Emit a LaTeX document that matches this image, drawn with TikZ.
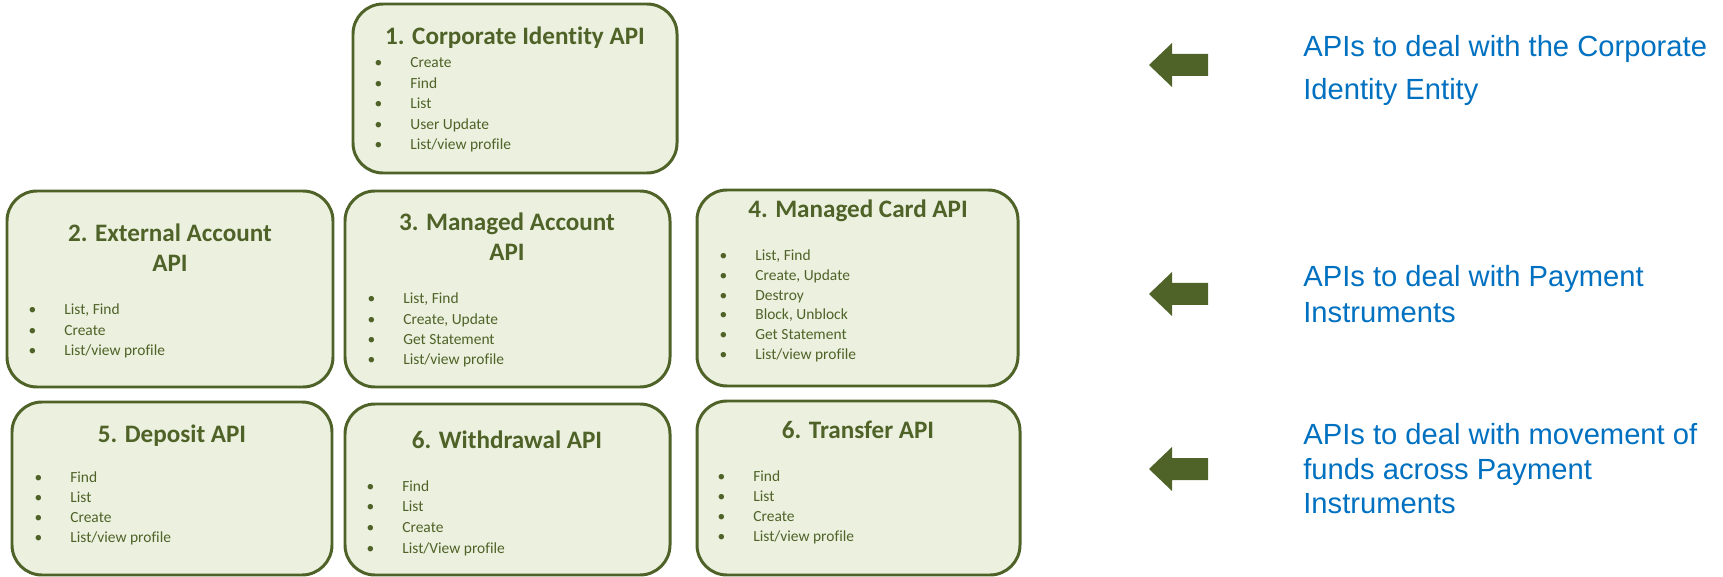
\documentclass[tikz,border=0pt]{standalone}
\usepackage{fontspec}
\setmainfont{Carlito}[Ligatures=NoCommon]
\newfontfamily\notefont{Liberation Sans}
\definecolor{apiolive}{HTML}{4F6228}
\definecolor{apifill}{HTML}{EBF1DE}
\definecolor{noteblue}{HTML}{0070C0}
\newcommand{\bul}{\llap{\textbullet\hspace{0.56cm}}}

\begin{document}
\begin{tikzpicture}[x=0.02cm, y=-0.02cm,
    apibox/.style={draw=apiolive, fill=apifill, line width=1.7pt, rounded corners=0.6cm},
    title/.style={text=apiolive, font=\fontsize{14.3}{17}\selectfont\bfseries, anchor=base, inner sep=0pt},
    item/.style={text=apiolive, font=\fontsize{8.8}{10}\selectfont, anchor=base west, inner sep=0pt},
    note/.style={text=noteblue, font=\notefont\fontsize{16.6}{19}\selectfont, anchor=base west, inner sep=0pt}]
    \useasboundingbox (0, 0) rectangle (1723, 577);

    % boxes
    \draw[apibox] (353, 4) rectangle (677, 173);
    \draw[apibox] (7, 191) rectangle (333, 387);
    \draw[apibox] (345, 191) rectangle (670, 387);
    \draw[apibox] (697, 190) rectangle (1018, 386);
    \draw[apibox] (12, 402) rectangle (332, 575);
    \draw[apibox] (345, 404) rectangle (670, 575);
    \draw[apibox] (697, 401) rectangle (1020, 575);

    % titles
    \node[title] (t1) at (515, 45) {1. Corporate Identity API};
    \node[title] (t2) at (170, 242) {2. External Account};
    \node[title] (t2b) at (170, 272) {API};
    \node[title] (t3) at (507, 231) {3. Managed Account};
    \node[title] (t3b) at (507, 261) {API};
    \node[title] (t4) at (858, 218) {4. Managed Card API};
    \node[title] (t5) at (172, 442) {5. Deposit API};
    \node[title] (t6) at (507, 448) {6. Withdrawal API};
    \node[title] (t7) at (858, 438) {6. Transfer API};

    % items
    \foreach \t [count=\i] in {Create, Find, List, User Update, List/view profile}
      \node[item] (a1-\i) at (410, 68 + 20.5*\i - 20.5) {\bul\t};
    \foreach \t [count=\i] in {{List, Find}, Create, List/view profile}
      \node[item] (a2-\i) at (64, 315 + 20.5*\i - 20.5) {\bul\t};
    \foreach \t [count=\i] in {{List, Find}, {Create, Update}, Get Statement, List/view profile}
      \node[item] (a3-\i) at (403, 304 + 20.3*\i - 20.3) {\bul\t};
    \foreach \t [count=\i] in {{List, Find}, {Create, Update}, Destroy, {Block, Unblock}, Get Statement, List/view profile}
      \node[item] (a4-\i) at (755, 261 + 19.6*\i - 19.6) {\bul\t};
    \foreach \t [count=\i] in {Find, List, Create, List/view profile}
      \node[item] (a5-\i) at (70, 482 + 20.3*\i - 20.3) {\bul\t};
    \foreach \t [count=\i] in {Find, List, Create, List/View profile}
      \node[item] (a6-\i) at (402, 491 + 20.7*\i - 20.7) {\bul\t};
    \foreach \t [count=\i] in {Find, List, Create, List/view profile}
      \node[item] (a7-\i) at (753, 481 + 20.3*\i - 20.3) {\bul\t};

    % arrows
    \foreach \ay in {65, 294, 469}
      \fill[apiolive] (1149, \ay) -- (1172, \ay - 22) -- (1172, \ay - 11) -- (1208, \ay - 11)
        -- (1208, \ay + 11) -- (1172, \ay + 11) -- (1172, \ay + 22) -- cycle;

    % notes
    \node[note] (n1) at (1303, 57) {APIs to deal with the Corporate};
    \node[note] (n1b) at (1303, 100) {Identity Entity};
    \node[note] (n2) at (1303, 287) {APIs to deal with Payment};
    \node[note] (n2b) at (1303, 322) {Instruments};
    \node[note] (n3) at (1303, 444) {APIs to deal with movement of};
    \node[note] (n3b) at (1303, 479) {funds across Payment};
    \node[note] (n3c) at (1303, 513) {Instruments};
  \end{tikzpicture}
\end{document}
